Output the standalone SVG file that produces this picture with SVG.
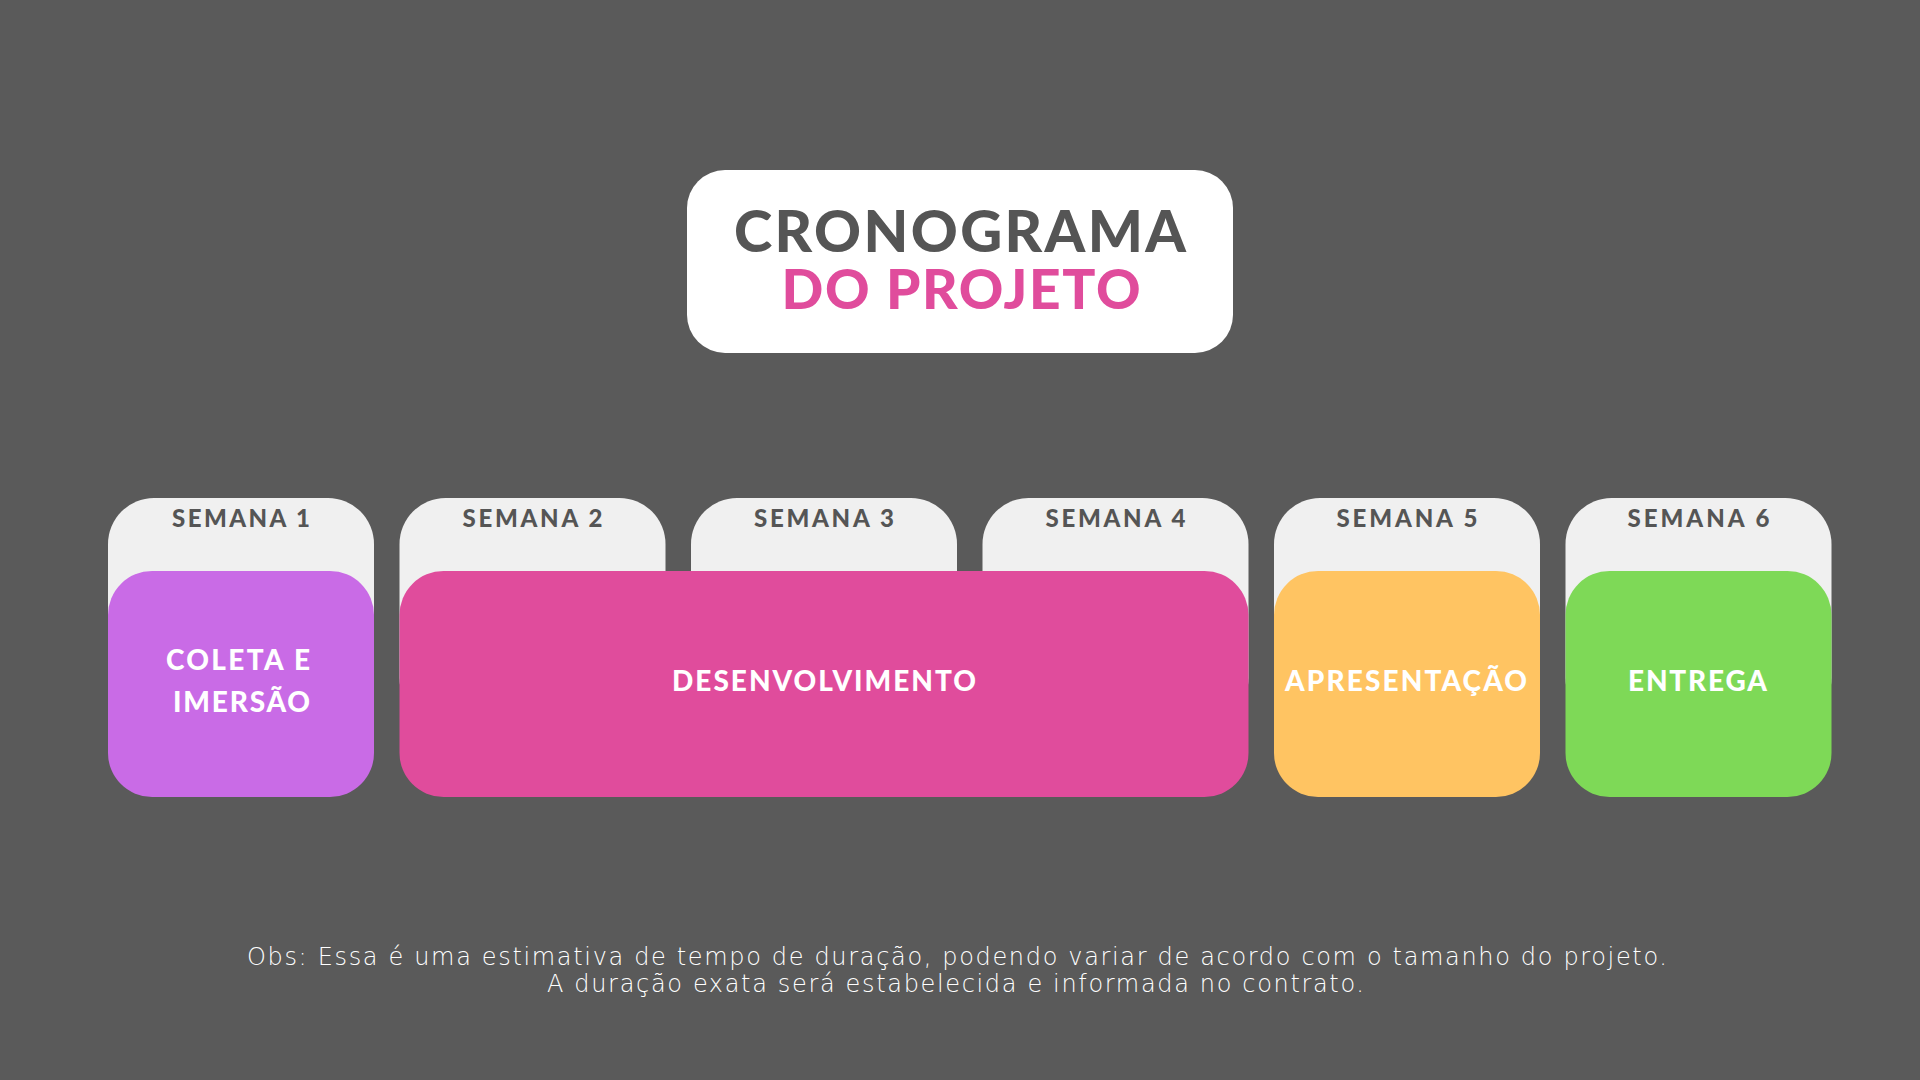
<svg xmlns="http://www.w3.org/2000/svg" width="1920" height="1080" viewBox="0 0 1920 1080">
<style>
.week{fill:#f0f0f0}
.wk{font-family:Lato,"Open Sans",sans-serif;font-weight:900;font-size:24px;fill:#555555;text-anchor:middle}
.lbl{font-family:Lato,"Open Sans",sans-serif;font-weight:900;font-size:28px;fill:#ffffff;text-anchor:middle}
.title{font-family:Lato,"Open Sans",sans-serif;font-weight:900;text-anchor:middle}
.note{font-family:"DejaVu Sans","Noto Sans",sans-serif;font-weight:200;font-size:24px;fill:#ffffff;text-anchor:middle}
</style>
<rect width="1920" height="1080" fill="#5a5a5a"/>
<g id="title">
<rect x="687" y="170" width="546" height="183" rx="38" fill="#ffffff"/>
<text class="title" x="960" y="252" font-size="58" fill="#555555" textLength="452">CRONOGRAMA</text>
<text class="title" x="961" y="309" font-size="55" fill="#e04c9c" textLength="359">DO PROJETO</text>
</g>
<g id="semana1"><rect class="week" x="108" y="498" width="266" height="226" rx="46"/><text class="wk" x="241" y="527" textLength="138">SEMANA 1</text></g>
<g id="semana2"><rect class="week" x="399.5" y="498" width="266" height="226" rx="46"/><text class="wk" x="532.5" y="527" textLength="140">SEMANA 2</text></g>
<g id="semana3"><rect class="week" x="691" y="498" width="266" height="226" rx="46"/><text class="wk" x="824" y="527" textLength="140">SEMANA 3</text></g>
<g id="semana4"><rect class="week" x="982.5" y="498" width="266" height="226" rx="46"/><text class="wk" x="1115.5" y="527" textLength="140">SEMANA 4</text></g>
<g id="semana5"><rect class="week" x="1274" y="498" width="266" height="226" rx="46"/><text class="wk" x="1407" y="527" textLength="141">SEMANA 5</text></g>
<g id="semana6"><rect class="week" x="1565.5" y="498" width="266" height="226" rx="46"/><text class="wk" x="1698.5" y="527" textLength="142">SEMANA 6</text></g>
<g id="coleta">
<rect x="108" y="571" width="266" height="226" rx="44" fill="#c96be6"/>
<text class="lbl" x="238" y="670" textLength="144">COLETA E</text>
<text class="lbl" x="241.5" y="712" textLength="137">IMERSÃO</text>
</g>
<g id="desenvolvimento">
<rect x="399.5" y="571" width="849" height="226" rx="44" fill="#e04c9c"/>
<text class="lbl" x="824" y="691" textLength="304">DESENVOLVIMENTO</text>
</g>
<g id="apresentacao">
<rect x="1274" y="571" width="266" height="226" rx="44" fill="#ffc462"/>
<text class="lbl" x="1406" y="691" textLength="242">APRESENTAÇÃO</text>
</g>
<g id="entrega">
<rect x="1565.5" y="571" width="266" height="226" rx="44" fill="#7ed957"/>
<text class="lbl" x="1697.5" y="691" textLength="139">ENTREGA</text>
</g>
<g id="obs">
<text class="note" x="957" y="965" textLength="1420">Obs: Essa é uma estimativa de tempo de duração, podendo variar de acordo com o tamanho do projeto.</text>
<text class="note" x="955.5" y="992" textLength="817">A duração exata será estabelecida e informada no contrato.</text>
</g>
</svg>
